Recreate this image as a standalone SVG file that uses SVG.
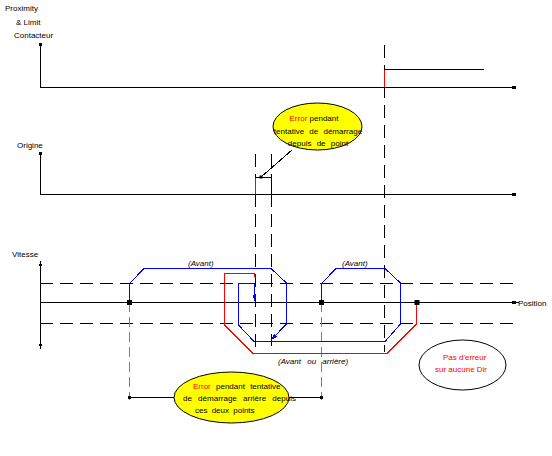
<svg xmlns="http://www.w3.org/2000/svg" width="552" height="456" viewBox="0 0 552 456">
<style>
text{font-family:"Liberation Sans",Arial,sans-serif;font-size:8px;fill:#000}
.it{font-style:italic}
.red{fill:#ff0000}
path{shape-rendering:crispEdges}
.ax{stroke:#000;stroke-width:1;fill:none}
.dash{stroke:#000;stroke-width:1;stroke-dasharray:13,7;fill:none}
.gdash{stroke:#808080;stroke-width:1;stroke-dasharray:10,5;fill:none}
.blue{stroke:#0000ff;stroke-width:1;fill:none}
.redl{stroke:#ff0000;stroke-width:1;fill:none}
.thin{stroke:#000;stroke-width:1;fill:none}
</style>
<defs>
<marker id="ab" viewBox="0 0 8 8" refX="7" refY="4" markerWidth="6" markerHeight="6" orient="auto" markerUnits="userSpaceOnUse"><path d="M0,1 L8,4 L0,7 Z" fill="#0000ff"/></marker>
<marker id="ak" viewBox="0 0 8 8" refX="7" refY="4" markerWidth="5" markerHeight="5" orient="auto-start-reverse" markerUnits="userSpaceOnUse"><path d="M0,1 L8,4 L0,7 Z" fill="#000"/></marker>
</defs>
<g id="labels">
<text x="5" y="11">Proximity</text>
<text x="16" y="25">&amp; Limit</text>
<text x="14" y="38">Contacteur</text>
<text x="17" y="148">Origine</text>
<text x="12" y="257">Vitesse</text>
<text x="518" y="306">Position</text>
<text class="it" x="188" y="266">(Avant)</text>
<text class="it" x="342" y="266">(Avant)</text>
<text class="it" x="278" y="364" word-spacing="4">(Avant ou arrière)</text>
</g>
<g id="connectors">
<path class="dash" d="M384.5,45 V352"/>
<path class="dash" d="M255.5,154 V352"/>
<path class="dash" d="M271.5,154 V346"/>
<path class="dash" d="M40,283.5 H514"/>
<path class="dash" d="M40,323.5 H514"/>
<path class="gdash" d="M129.5,302 V400"/>
<path class="gdash" d="M321.5,302 V400"/>
<path class="ax" d="M40.5,45 V87.5 H514"/>
<rect x="39" y="43" width="3" height="3"/>
<rect x="512" y="86" width="4" height="3"/>
<path class="ax" d="M384.5,69.5 H484"/>
<path class="redl" d="M384.5,70 V87"/>
<path class="ax" d="M40.5,154 V194.5 H514"/>
<rect x="39" y="152" width="3" height="3"/>
<rect x="512" y="193" width="4" height="3"/>
<path class="ax" d="M255.5,177.5 H271.5 V194"/>
<path class="redl" d="M255.5,178 V194"/>
<path class="ax" d="M40.5,262 V348" marker-start="url(#ak)" marker-end="url(#ak)"/>
<path class="ax" d="M40,302.5 H514"/>
<rect x="512" y="301" width="4" height="3"/>
<path class="thin" d="M516,302.5 H519"/>
<path class="redl" d="M254.5,277 V273.5 H224.5 V325 L253,353.5 H387 L416.5,324 V302"/>
<path class="blue" d="M129.5,302 V283.5 L144,268.5 H271 L286.5,283 V324 L272,339" marker-end="url(#ab)"/>
<path class="blue" d="M321.5,302 V283.5 L336,268.5 H385 L400.5,283 V324 L385,341.5 H254 L238.5,325 V283.5 H254.5 V300" marker-end="url(#ab)"/>
<rect x="127" y="300" width="5" height="5"/>
<rect x="319" y="300" width="5" height="5"/>
<rect x="414.5" y="300" width="5" height="5"/>
<path class="ax" d="M129,397.5 H174"/>
<path class="ax" d="M289,397.5 H321"/>
<rect x="128" y="396" width="3" height="3"/>
<rect x="320" y="396" width="3" height="3"/>
<path class="thin" d="M261,177 L292,150"/>
<rect x="259.5" y="175.5" width="3" height="3"/>
</g>
<g id="callout-origine">
<ellipse cx="317.5" cy="126.5" rx="44.5" ry="23.5" fill="#ffff00" stroke="#000" stroke-width="1"/>
<text x="314" y="121" text-anchor="middle"><tspan class="red">Error</tspan> pendant</text>
<text x="318" y="133.5" text-anchor="middle" word-spacing="3">tentative de démarrage</text>
<text x="318" y="145.5" text-anchor="middle" word-spacing="3">depuis de point</text>
</g>
<g id="callout-deux-points">
<ellipse cx="231.5" cy="397.5" rx="57.5" ry="25.5" fill="#ffff00" stroke="#000" stroke-width="1"/>
<text x="193" y="389" word-spacing="3"><tspan class="red">Error</tspan> pendant  tentative</text>
<text x="183" y="401" word-spacing="4">de démarrage arrière depuis</text>
<text x="195" y="413" word-spacing="2">ces deux points</text>
</g>
<g id="callout-pas-erreur">
<ellipse cx="462.5" cy="365" rx="43.5" ry="25" fill="#fff" stroke="#000" stroke-width="1"/>
<text class="red" x="443" y="360">Pas d'erreur</text>
<text class="red" x="435" y="372">sur aucune Dir</text>
</g>
</svg>
